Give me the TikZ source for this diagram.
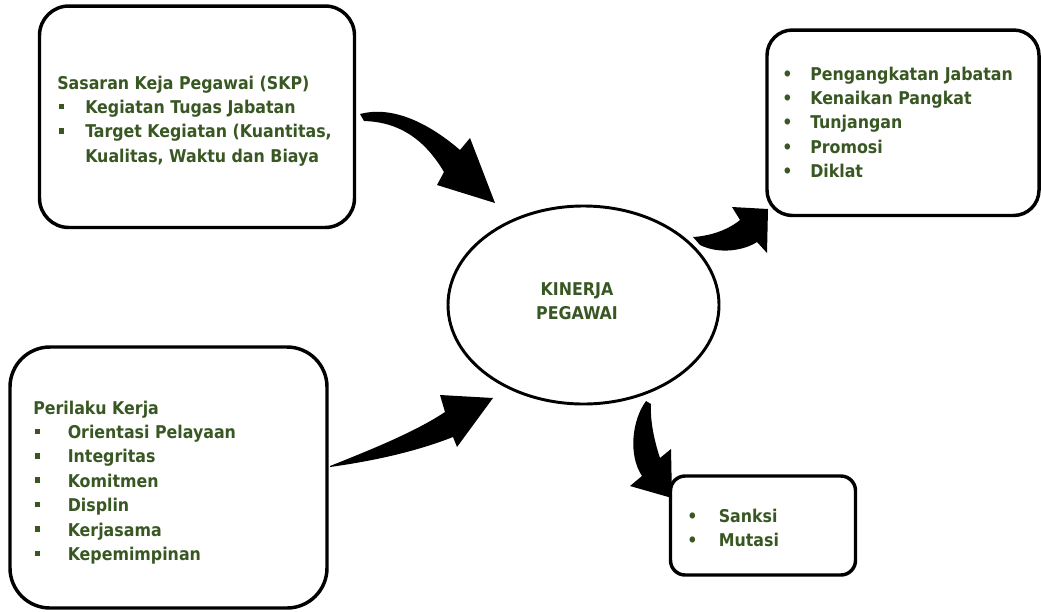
\documentclass[tikz,border=0pt]{standalone}
\usepackage{fontspec}
\setmainfont{DejaVu Sans Condensed}
\usetikzlibrary{shapes.geometric}
\definecolor{txtgreen}{RGB}{56,87,35}
\newcommand\sqb[1][19.5pt]{\hspace{1.5pt}\makebox[#1][l]{\raisebox{3.2pt}{\rule{3.6pt}{4.2pt}}}}
\newcommand\rbl[1][21pt]{\makebox[#1][l]{•}}
\tikzset{
  box/.style={draw=black, line width=2.6pt, rounded corners=#1, inner sep=0pt},
  box/.default=20pt,
  txt/.style={text=txtgreen, inner sep=0pt, font=\fontsize{13.2pt}{18.3pt}\selectfont\bfseries},
  blockarrow/.style={fill=black, draw=none}
}
\begin{document}
\begin{tikzpicture}[x=0.75pt, y=-0.75pt]
\useasboundingbox (0,0) rectangle (1041,611);

% boxes
\node[box=22pt, minimum width=236.25pt, minimum height=166.1pt] (skp) at (197,116.75) {};
\node[box=19pt, minimum width=204pt, minimum height=139.1pt] (reward) at (903,122.75) {};
\node[box=30pt, minimum width=237.75pt, minimum height=195.75pt] (perilaku) at (168.5,477.5) {};
\node[box=11pt, minimum width=138.75pt, minimum height=74.25pt] (sanksi) at (763,525.5) {};
\node[ellipse, draw=black, line width=2.2pt, minimum width=203.25pt, minimum height=148.5pt, inner sep=0pt] (kinerja) at (583.5,305) {};

% texts
\node[txt, anchor=base west] (skptext) at (57,89) {\begin{tabular}[t]{@{}l@{}}
Sasaran Keja Pegawai (SKP)\\
\sqb Kegiatan Tugas Jabatan\\
\sqb Target Kegiatan (Kuantitas,\\
\hspace{21pt}Kualitas, Waktu dan Biaya
\end{tabular}};

\node[txt, anchor=base west] (rewardtext) at (782,80) {\begin{tabular}[t]{@{}l@{}}
\rbl Pengangkatan Jabatan\\
\rbl Kenaikan Pangkat\\
\rbl Tunjangan\\
\rbl Promosi\\
\rbl Diklat
\end{tabular}};

\node[txt, anchor=base west] (perilakutext) at (33,414) {\begin{tabular}[t]{@{}l@{}}
Perilaku Kerja\\
\sqb[20.25pt] Orientasi Pelayaan\\
\sqb[20.25pt] Integritas\\
\sqb[20.25pt] Komitmen\\
\sqb[20.25pt] Displin\\
\sqb[20.25pt] Kerjasama\\
\sqb[20.25pt] Kepemimpinan
\end{tabular}};

\node[txt, anchor=base west] (sanksitext) at (687,522) {\begin{tabular}[t]{@{}l@{}}
\rbl[19.5pt] Sanksi\\
\rbl[19.5pt] Mutasi
\end{tabular}};

\node[txt, font=\fontsize{13.2pt}{18pt}\selectfont\bfseries] (kinerjatext) at (577,303) {\begin{tabular}{@{}c@{}}KINERJA\\PEGAWAI\end{tabular}};

% block arrows
\fill[blockarrow] (360,114) .. controls (390,106) and (425,120) .. (460,150)
  -- (470,138) -- (495,203) -- (437,185) -- (444,172)
  .. controls (425,140) and (400,122) .. (364,121) -- cycle;

\fill[blockarrow] (330,466) .. controls (370,450) and (415,432) .. (445,412)
  -- (440,395) -- (493,398) -- (457,447) -- (453,437)
  .. controls (420,450) and (380,460) .. (330,467) -- cycle;

\fill[blockarrow] (693,237) .. controls (710,236) and (728,230) .. (740,220)
  -- (732,207) -- (768,209) -- (767,253) -- (757,242)
  .. controls (745,250) and (720,255) .. (700,245) -- cycle;

\fill[blockarrow] (646,401) .. controls (632,420) and (628,455) .. (642,476)
  -- (630,486) -- (672,498) -- (671,449) -- (660,458)
  .. controls (654,440) and (650,420) .. (651,404) -- cycle;
\end{tikzpicture}
\end{document}
